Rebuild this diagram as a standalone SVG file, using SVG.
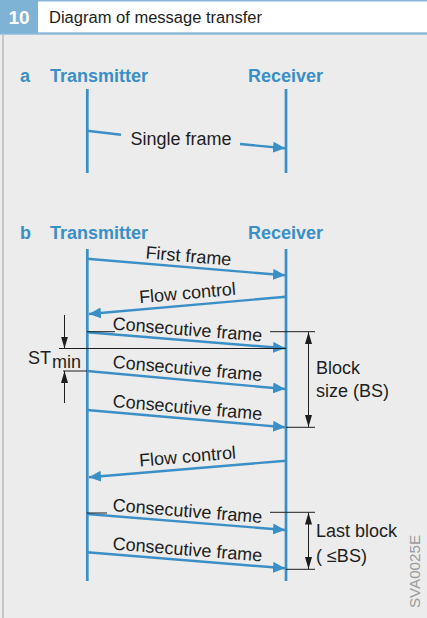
<svg xmlns="http://www.w3.org/2000/svg" width="427" height="618" viewBox="0 0 427 618">
<style>
.lbl{font-family:"Liberation Sans",Arial,sans-serif;font-size:18px;fill:#1e1e1e}
.hd{font-family:"Liberation Sans",Arial,sans-serif;font-size:18px;font-weight:bold;fill:#3a8fc6}
.life{stroke:#3a8fc6;stroke-width:2.7;fill:none}
.msg{stroke:#3a8fc6;stroke-width:2.4;fill:none}
.blk{stroke:#1e1e1e;stroke-width:1;fill:none}
</style>
<defs>
<marker id="ab" markerUnits="userSpaceOnUse" markerWidth="13" markerHeight="12" refX="12" refY="5.5" orient="auto">
<path d="M0,0 L12,5.5 L0,11 z" fill="#3a8fc6"/>
</marker>
<marker id="ak" markerUnits="userSpaceOnUse" markerWidth="13" markerHeight="8" refX="12" refY="3.5" orient="auto">
<path d="M0,0 L12,3.5 L0,7 z" fill="#1e1e1e"/>
</marker>
</defs>
<rect x="0" y="0" width="427" height="618" fill="#ebeceb"/>
<g id="header">
<rect x="0" y="0" width="427" height="33" fill="#ffffff"/>
<rect x="0" y="0" width="427" height="1.5" fill="#8ab8db"/>
<rect x="0" y="32.3" width="427" height="2.4" fill="#8ab8db"/>
<rect x="0" y="0" width="38" height="33" fill="#7fb3d6"/>
<text x="19" y="23.5" text-anchor="middle" font-family="'Liberation Sans',Arial,sans-serif" font-size="19" font-weight="bold" fill="#ffffff">10</text>
<text x="49" y="23" font-family="'Liberation Sans',Arial,sans-serif" font-size="16" fill="#222222" textLength="213" lengthAdjust="spacingAndGlyphs">Diagram of message transfer</text>
<rect x="2" y="34.7" width="2" height="584" fill="#c6c7c9"/>
</g>
<g id="part-a">
<text class="hd" x="20" y="82">a</text>
<g id="a-transmitter"><text class="hd" x="50" y="82">Transmitter</text><line class="life" x1="87.3" y1="89" x2="87.3" y2="173"/></g>
<g id="a-receiver"><text class="hd" x="248" y="82">Receiver</text><line class="life" x1="286" y1="89" x2="286" y2="173"/></g>
</g>
<g id="part-b">
<text class="hd" x="20" y="239">b</text>
<g id="b-transmitter"><text class="hd" x="50" y="239">Transmitter</text><line class="life" x1="87.3" y1="249" x2="87.3" y2="581"/></g>
<g id="b-receiver"><text class="hd" x="248" y="239">Receiver</text><line class="life" x1="286" y1="249" x2="286" y2="581"/></g>
</g>
<g id="connectors">
<line class="msg" x1="87" y1="130.7" x2="121" y2="134.7"/>
<line class="msg" x1="240" y1="144" x2="285" y2="148.3" marker-end="url(#ab)"/>
<line class="msg" x1="87" y1="258.7" x2="285" y2="275.3" marker-end="url(#ab)"/>
<line class="msg" x1="286" y1="296.7" x2="89" y2="314" marker-end="url(#ab)"/>
<line class="msg" x1="87" y1="332.3" x2="285" y2="348.3" marker-end="url(#ab)"/>
<line class="msg" x1="87" y1="371" x2="285" y2="389" marker-end="url(#ab)"/>
<line class="msg" x1="87" y1="410" x2="285" y2="427.3" marker-end="url(#ab)"/>
<line class="msg" x1="286" y1="460.7" x2="89" y2="477.3" marker-end="url(#ab)"/>
<line class="msg" x1="87" y1="514" x2="285" y2="530" marker-end="url(#ab)"/>
<line class="msg" x1="87" y1="552.3" x2="285" y2="568.3" marker-end="url(#ab)"/>
<line class="blk" x1="87" y1="331.7" x2="115" y2="331.7"/>
<line class="blk" x1="59" y1="348.5" x2="286" y2="348.5"/>
<line class="blk" x1="63" y1="371" x2="87" y2="371"/>
<line class="blk" x1="64.5" y1="315" x2="64.5" y2="348.5" marker-end="url(#ak)"/>
<line class="blk" x1="64.5" y1="403" x2="64.5" y2="371" marker-end="url(#ak)"/>
<line class="blk" x1="270" y1="331.7" x2="315" y2="331.7"/>
<line class="blk" x1="286" y1="427.3" x2="315" y2="427.3"/>
<line class="blk" x1="308.5" y1="380" x2="308.5" y2="332" marker-end="url(#ak)"/>
<line class="blk" x1="308.5" y1="380" x2="308.5" y2="427" marker-end="url(#ak)"/>
<line class="blk" x1="87" y1="513" x2="107" y2="513"/>
<line class="blk" x1="270" y1="512.3" x2="315" y2="512.3"/>
<line class="blk" x1="286" y1="569.3" x2="315" y2="569.3"/>
<line class="blk" x1="308.5" y1="541" x2="308.5" y2="512.6" marker-end="url(#ak)"/>
<line class="blk" x1="308.5" y1="541" x2="308.5" y2="569" marker-end="url(#ak)"/>
</g>
<g id="labels">
<text class="lbl" x="181" y="145" text-anchor="middle">Single frame</text>
<text class="lbl" text-anchor="middle" transform="translate(188,262) rotate(4.8)">First frame</text>
<text class="lbl" text-anchor="middle" transform="translate(188,299) rotate(-5)">Flow control</text>
<text class="lbl" text-anchor="middle" transform="translate(187,335.5) rotate(4.6)">Consecutive frame</text>
<text class="lbl" text-anchor="middle" transform="translate(187,374.5) rotate(5.1)">Consecutive frame</text>
<text class="lbl" text-anchor="middle" transform="translate(187,413.5) rotate(5)">Consecutive frame</text>
<text class="lbl" text-anchor="middle" transform="translate(188,462.5) rotate(-4.8)">Flow control</text>
<text class="lbl" text-anchor="middle" transform="translate(187,517) rotate(4.6)">Consecutive frame</text>
<text class="lbl" text-anchor="middle" transform="translate(187,555.5) rotate(4.6)">Consecutive frame</text>
<text class="lbl" x="28" y="364">ST</text>
<text class="lbl" x="52" y="368" font-size="13">min</text>
<text class="lbl" x="316" y="374">Block</text>
<text class="lbl" x="316" y="397">size (BS)</text>
<text class="lbl" x="316" y="537">Last block</text>
<text class="lbl" x="316" y="562">( ≤BS)</text>
<text transform="translate(420,608) rotate(-90)" font-family="'Liberation Sans',Arial,sans-serif" font-size="14" fill="#9a9b9d" textLength="73" lengthAdjust="spacingAndGlyphs">SVA0025E</text>
</g>
</svg>
